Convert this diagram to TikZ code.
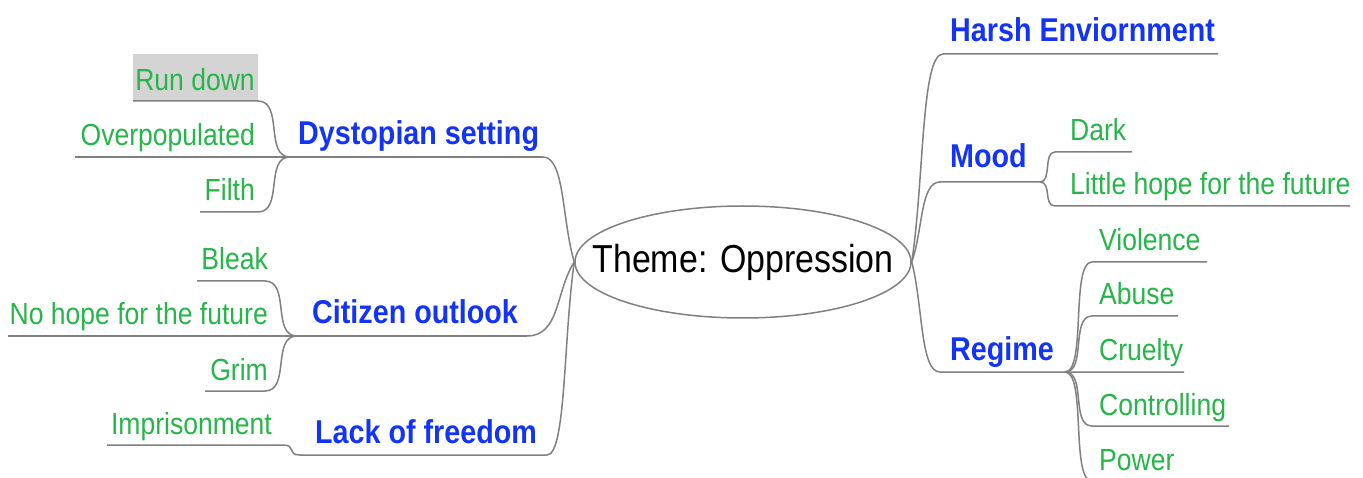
\documentclass[tikz,border=0pt]{standalone}
\usepackage{fontspec}
\setmainfont{Liberation Sans}[FakeStretch=0.87]
\usetikzlibrary{calc,shapes.geometric}

\definecolor{leafgreen}{RGB}{38,181,72}
\definecolor{topicblue}{RGB}{20,52,245}
\definecolor{wiregrey}{RGB}{128,128,128}
\definecolor{boxgrey}{RGB}{212,212,212}

\tikzset{
  leaf/.style={text=leafgreen, font=\fontsize{30.5}{32}\selectfont, inner sep=0pt},
  topic/.style={text=topicblue, font=\fontsize{33}{35}\selectfont\bfseries, inner sep=0pt},
  wire/.style={draw=wiregrey, line width=1.5pt},
  % main branch: horizontal at the start, steep where it reaches the junction
  limb/.style={to path={let \p1=(\tikztostart), \p2=(\tikztotarget) in
    .. controls ({\x1+0.7*(\x2-\x1)},{\y1}) and ({\x1+0.6*(\x2-\x1)},{\y1+0.6*(\y2-\y1)}) .. (\tikztotarget)}},
  % sub branch: brace-like S curve, horizontal at both ends
  twig/.style={to path={let \p1=(\tikztostart), \p2=(\tikztotarget) in
    .. controls ({\x1+0.8*(\x2-\x1)},{\y1}) and ({\x1+0.2*(\x2-\x1)},{\y2}) .. (\tikztotarget)}},
}

\begin{document}
\begin{tikzpicture}[x=1pt,y=-1pt]
\useasboundingbox (0,0) rectangle (1363,478);

% central topic: outline and its caption
\node[draw=wiregrey, line width=1.5pt, ellipse, minimum width=336pt, minimum height=112pt,
      inner sep=0pt] (theme) at (743,262) {};
\node[font=\fontsize{39}{41}\selectfont, inner sep=0pt] (themetext) at (theme.center) {Theme: Oppression};

% ---------- Dystopian setting ----------
\node[fill=boxgrey, anchor=north west, minimum width=125pt, minimum height=47pt, inner sep=0pt] (rdbox) at (133,54) {};
\node[leaf, anchor=base east] (rundown) at (255,91) {Run down};
\node[leaf, anchor=base east] (overpop) at (255,146) {Overpopulated};
\node[leaf, anchor=base east] (filth) at (255,201) {Filth};
\node[topic, anchor=base west] (dystopian) at (298,145) {Dystopian setting};
\coordinate (rd-l) at (133,101); \coordinate (rd-r) at (258,101);
\coordinate (op-l) at (75,157);
\coordinate (fi-l) at (200,212); \coordinate (fi-r) at (258,212);
\coordinate (j1) at (290,157);
\coordinate (ds-r) at (543,157);
\draw[wire] (rd-l) -- (rd-r) to[twig] (j1);
\draw[wire] (fi-l) -- (fi-r) to[twig] (j1);
\draw[wire] (op-l) -- (j1) -- (ds-r);
\draw[wire] (ds-r) to[limb] (theme.west);

% ---------- Citizen outlook ----------
\node[leaf, anchor=base east] (bleak) at (268,270) {Bleak};
\node[leaf, anchor=base east] (nohope) at (268,325) {No hope for the future};
\node[leaf, anchor=base east] (grim) at (268,380) {Grim};
\node[topic, anchor=base west] (citizen) at (312,324) {Citizen outlook};
\coordinate (bl-l) at (197,281); \coordinate (bl-r) at (265,281);
\coordinate (nh-l) at (8,336);
\coordinate (gr-l) at (205,391); \coordinate (gr-r) at (265,391);
\coordinate (j2) at (297,336);
\coordinate (co-r) at (527,336);
\draw[wire] (bl-l) -- (bl-r) to[twig] (j2);
\draw[wire] (gr-l) -- (gr-r) to[twig] (j2);
\draw[wire] (nh-l) -- (j2) -- (co-r);
\draw[wire] (co-r) to[limb] (theme.west);

% ---------- Lack of freedom ----------
\node[leaf, anchor=base east] (prison) at (272,434) {Imprisonment};
\node[topic, anchor=base west] (lack) at (315,443) {Lack of freedom};
\coordinate (im-l) at (107,445); \coordinate (im-r) at (283,445);
\coordinate (lf-l) at (300,455); \coordinate (lf-r) at (547,455);
\draw[wire] (im-l) -- (im-r) to[twig] (lf-l) -- (lf-r);
\draw[wire] (lf-r) to[limb] (theme.west);

% ---------- Harsh Enviornment ----------
\node[topic, anchor=base west] (harsh) at (950,42) {Harsh Enviornment};
\coordinate (he-l) at (943,54); \coordinate (he-r) at (1218,54);
\draw[wire] (he-r) -- (he-l) to[limb] (theme.east);

% ---------- Mood ----------
\node[topic, anchor=base west] (mood) at (950,168) {Mood};
\node[leaf, anchor=base west] (dark) at (1070,141) {Dark};
\node[leaf, anchor=base west] (little) at (1070,195) {Little hope for the future};
\coordinate (mo-l) at (940,182); \coordinate (j3) at (1040,182);
\coordinate (dk-l) at (1055,152); \coordinate (dk-r) at (1132,152);
\coordinate (lh-l) at (1055,206); \coordinate (lh-r) at (1350,206);
\draw[wire] (j3) -- (mo-l) to[limb] (theme.east);
\draw[wire] (dk-r) -- (dk-l) to[twig] (j3);
\draw[wire] (lh-r) -- (lh-l) to[twig] (j3);

% ---------- Regime ----------
\node[topic, anchor=base west] (regime) at (950,360) {Regime};
\node[leaf, anchor=base west] (violence) at (1099,251) {Violence};
\node[leaf, anchor=base west] (abuse) at (1099,305) {Abuse};
\node[leaf, anchor=base west] (cruelty) at (1099,360) {Cruelty};
\node[leaf, anchor=base west] (control) at (1099,415) {Controlling};
\node[leaf, anchor=base west] (power) at (1099,470) {Power};
\coordinate (rg-l) at (940,372); \coordinate (j4) at (1065,372);
\coordinate (vi-l) at (1092,262); \coordinate (vi-r) at (1207,262);
\coordinate (ab-l) at (1092,316); \coordinate (ab-r) at (1178,316);
\coordinate (cr-r) at (1184,372);
\coordinate (ct-l) at (1092,426); \coordinate (ct-r) at (1229,426);
\coordinate (pw-l) at (1092,481); \coordinate (pw-r) at (1180,481);
\draw[wire] (cr-r) -- (j4) -- (rg-l) to[limb] (theme.east);
\draw[wire] (vi-r) -- (vi-l) to[twig] (j4);
\draw[wire] (ab-r) -- (ab-l) to[twig] (j4);
\draw[wire] (ct-r) -- (ct-l) to[twig] (j4);
\draw[wire] (pw-r) -- (pw-l) to[twig] (j4);
\end{tikzpicture}
\end{document}
